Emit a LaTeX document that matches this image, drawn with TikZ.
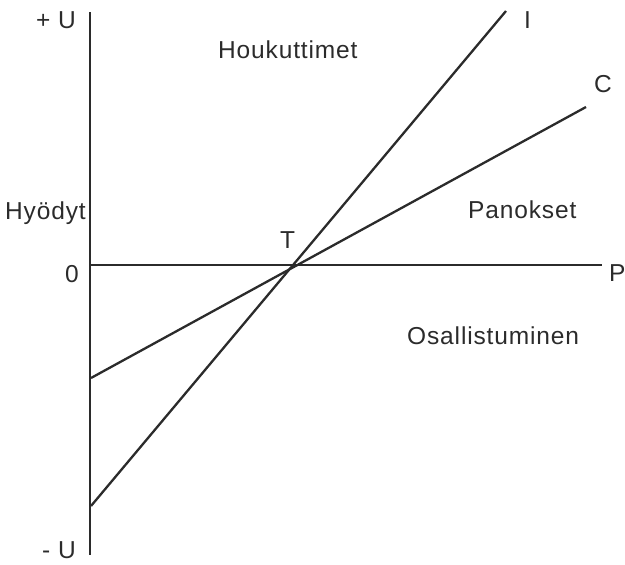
\documentclass[tikz,border=0pt]{standalone}
\usepackage{fontspec}
\setmainfont{Liberation Sans}
\usepackage{tikz}
\usetikzlibrary{positioning,calc}
\usepackage{xcolor}
\definecolor{inkgray}{HTML}{2B2B2B}

\begin{document}
\begin{tikzpicture}[
        x=1pt, y=-1pt,
        axis/.style={draw=inkgray, line width=2.5pt},
        curve/.style={draw=inkgray, line width=2.3pt},
        lbl/.style={anchor=base west, inner sep=0pt, text=inkgray, font=\fontsize{24.5}{28}\selectfont\addfontfeature{LetterSpace=3.5}}
    ]
        \useasboundingbox (0,0) rectangle (625,565);

        % axes
        \coordinate (utop) at (90,12);
        \coordinate (ubot) at (90,555);
        \coordinate (orig) at (90,265);
        \coordinate (pend) at (602,265);
        \draw[axis] (utop) -- (ubot);
        \draw[axis] (orig) -- (pend);

        % lines I and C
        \coordinate (ilow) at (91,506);
        \coordinate (ihigh) at (506,11);
        \coordinate (clow) at (91,378);
        \coordinate (chigh) at (586,107);
        \draw[curve] (ilow) -- (ihigh);
        \draw[curve] (clow) -- (chigh);

        % labels
        \node[lbl] (plusu) at (36,28) {+ U};
        \node[lbl] (minusu) at (42,558) {- U};
        \node[lbl] (hyodyt) at (5,219) {Hyödyt};
        \node[lbl] (zero) at (65,282) {0};
        \node[lbl] (tpoint) at (280,248) {T};
        \node[lbl] (ilbl) at (524,28) {I};
        \node[lbl] (clbl) at (594,92) {C};
        \node[lbl] (plbl) at (609,281) {P};
        \node[lbl] (houk) at (218,58) {Houkuttimet};
        \node[lbl] (panok) at (468,218) {Panokset};
        \node[lbl] (osall) at (407,344) {Osallistuminen};
    \end{tikzpicture}
\end{document}
